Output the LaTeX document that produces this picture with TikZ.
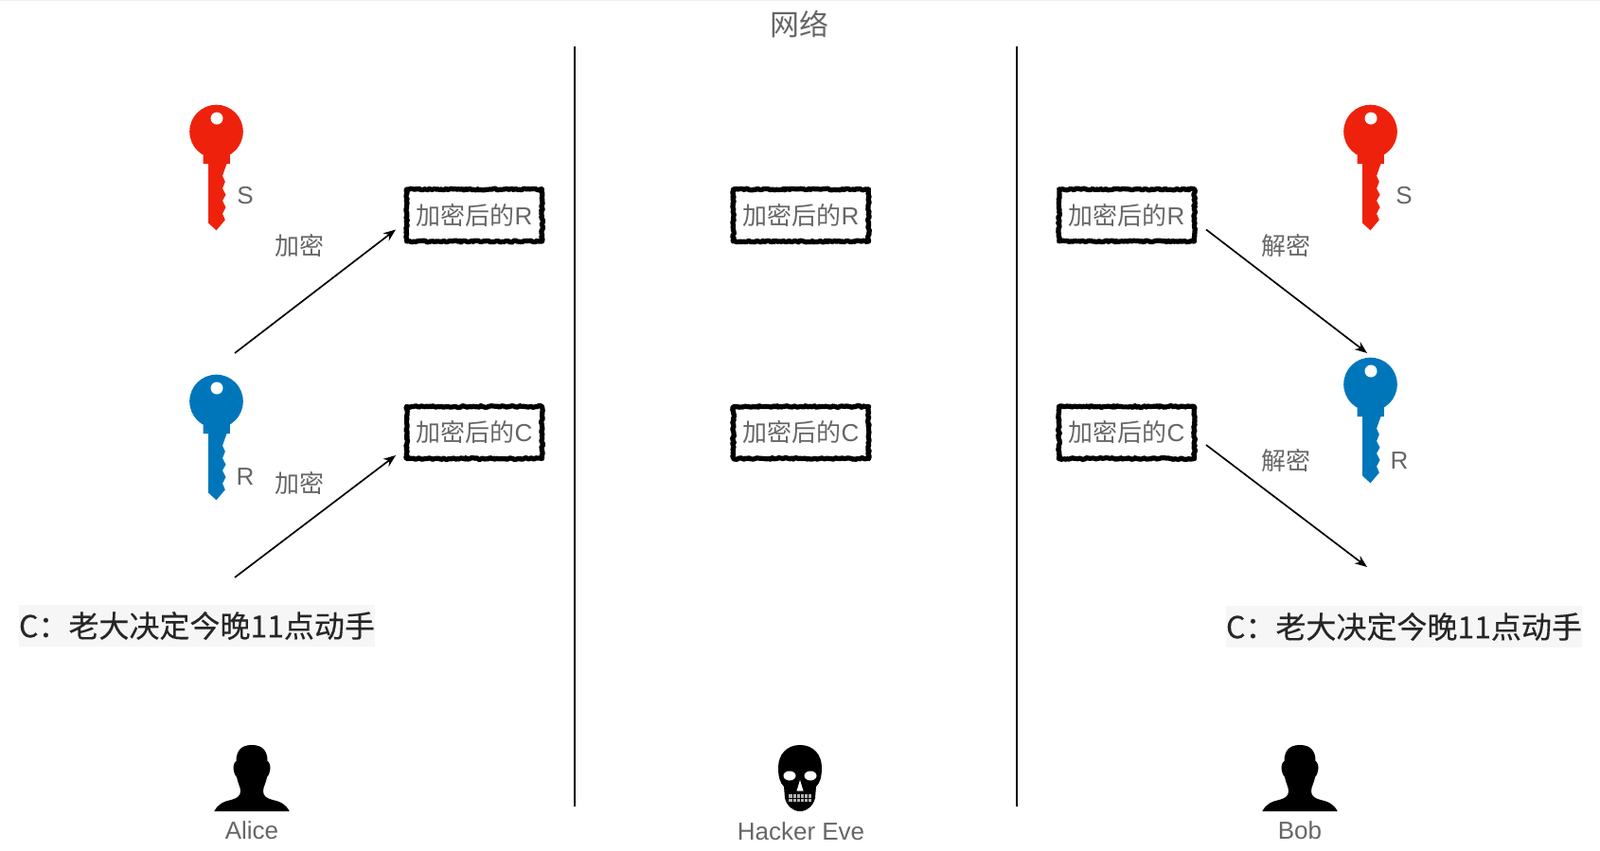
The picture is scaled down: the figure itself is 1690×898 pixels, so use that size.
\documentclass[tikz,border=0pt]{standalone}
\usepackage{fontspec}
\setmainfont{Liberation Sans}
\newfontfamily\cjk{Noto Sans CJK SC}
\newfontfamily\cjkdark[FakeBold=0.3]{Noto Sans CJK SC}
\usetikzlibrary{arrows.meta,positioning,decorations.pathmorphing}
\definecolor{keyred}{HTML}{EE220C}
\definecolor{keyblue}{HTML}{0076BA}
\definecolor{labelgray}{HTML}{666666}
\definecolor{plainbg}{HTML}{F6F6F6}
\tikzset{
  label text/.style={text=labelgray,font=\fontsize{26}{30}\selectfont,inner sep=0pt},
  cipher box/.style={label text,draw=black,line width=5.2pt,line join=round,minimum width=143pt,minimum height=55pt,
    decorate,decoration={random steps,segment length=1.8pt,amplitude=0.9pt}},
  plain box/.style={fill=plainbg,text=black!85,font=\cjkdark\fontsize{32}{36}\selectfont,
    minimum width=376pt,minimum height=44pt,inner sep=0pt},
  flow/.style={-{Stealth[length=13pt,width=10pt]},line width=1.7pt},
  keyshape/.pic={
    \fill[pic actions] (0,0) circle (28.3);
    \fill[pic actions] (-14,20) -- (-14,34) -- (-8.3,34) -- (-8.3,96.7) -- (0,104.3) -- (9.3,93.3)
      -- (6.5,86.7) -- (10,80) -- (6.5,73) -- (10,66.7) -- (6.5,60) -- (9.3,53) -- (6.5,46.7)
      -- (11,34) -- (14.3,34) -- (14.3,20) -- cycle;
    \fill[white] (0.5,-14) circle (6.5);
  },
  personshape/.pic={
    \fill (0,-70) .. controls (12,-70) and (16.5,-63) .. (16.5,-53)
      .. controls (19,-52) and (20,-46) .. (19.3,-44) .. controls (18.5,-40) and (17.5,-37) .. (16,-36)
      .. controls (15,-30) and (12,-26) .. (12,-21) .. controls (12,-16) and (16,-13.5) .. (22,-12)
      .. controls (31,-10) and (36,-7) .. (39.7,0) -- (-39.7,0)
      .. controls (-36,-7) and (-31,-10) .. (-22,-12) .. controls (-16,-13.5) and (-12,-16) .. (-12,-21)
      .. controls (-12,-26) and (-15,-30) .. (-16,-36) .. controls (-17.5,-37) and (-18.5,-40) .. (-19.3,-44)
      .. controls (-20,-46) and (-19,-52) .. (-16.5,-53) .. controls (-16.5,-63) and (-12,-70) .. (0,-70) -- cycle;
  },
  skullshape/.pic={
    \fill (0,-70) .. controls (14,-70) and (23,-60) .. (23,-46) .. controls (23,-36) and (21,-30) .. (17,-26)
      -- (16,-14) .. controls (14,-6) and (8,0) .. (0,0) .. controls (-8,0) and (-14,-6) .. (-16,-14)
      -- (-17,-26) .. controls (-21,-30) and (-23,-36) .. (-23,-46) .. controls (-23,-60) and (-14,-70) .. (0,-70) -- cycle;
    \fill[white] (-11,-37.5) ellipse (6.5 and 5);
    \fill[white] (11,-37.5) ellipse (6.5 and 5);
    \fill[white] (0,-33) -- (-3.5,-21.5) -- (3.5,-21.5) -- cycle;
    \fill[black!30] (-12,-18) rectangle (12,-10);
    \foreach \t in {-8,-4,0,4,8} \draw[black,line width=1pt] (\t,-18) -- (\t,-10);
    \draw[black,line width=0.8pt] (-12,-14) -- (12,-14);
  }
}
\newcommand{\enc}[1]{{\cjk 加密后的}#1}
\begin{document}
\begin{tikzpicture}[x=1pt,y=-1pt]
  \useasboundingbox (0,0) rectangle (1690,898);
  \fill[black!6] (0,0) rectangle (1690,1); % 顶边的浅灰细条
  \node[label text,font=\cjk\fontsize{31}{36}\selectfont] (title) at (844,25) {网络}; % 顶部标题
  \coordinate (lineAtop) at (607,49); \coordinate (lineAbot) at (607,852);
  \coordinate (lineBtop) at (1074,49); \coordinate (lineBbot) at (1074,852);
  \draw[line width=1.8pt] (lineAtop) -- (lineAbot); % 左侧分隔线
  \draw[line width=1.8pt] (lineBtop) -- (lineBbot); % 右侧分隔线

  \pic[fill=keyred] at (228.5,139) {keyshape}; % Alice 的钥匙 S
  \pic[fill=keyblue] at (228.5,424) {keyshape}; % Alice 的钥匙 R
  \pic[fill=keyred] at (1447.5,139) {keyshape}; % Bob 的钥匙 S
  \pic[fill=keyblue] at (1447.5,406) {keyshape}; % Bob 的钥匙 R
  \node[label text] (leftS) at (259,207) {S};
  \node[label text] (leftR) at (259,504) {R};
  \node[label text] (rightS) at (1483,207) {S};
  \node[label text] (rightR) at (1478,487) {R};

  \node[cipher box] (leftboxR) at (501,227.5) {\enc{R}};
  \node[cipher box] (leftboxC) at (501,457) {\enc{C}};
  \node[cipher box] (midboxR) at (846,227.5) {\enc{R}};
  \node[cipher box] (midboxC) at (846,457) {\enc{C}};
  \node[cipher box] (rightboxR) at (1190,227.5) {\enc{R}};
  \node[cipher box] (rightboxC) at (1190,457) {\enc{C}};

  \coordinate (encRfrom) at (248,373); \coordinate (encRto) at (418,242.5);
  \coordinate (encCfrom) at (248,610); \coordinate (encCto) at (418,481);
  \coordinate (decRfrom) at (1274,242.5); \coordinate (decRto) at (1444,373);
  \coordinate (decCfrom) at (1274,470); \coordinate (decCto) at (1444,599);
  \draw[flow] (encRfrom) -- (encRto); % 用 S 加密 R
  \draw[flow] (encCfrom) -- (encCto); % 用 R 加密 C
  \draw[flow] (decRfrom) -- (decRto); % 用 S 解密 R
  \draw[flow] (decCfrom) -- (decCto); % 用 R 解密 C
  \node[label text,font=\cjk\fontsize{26}{30}\selectfont] (encRtext) at (316,259) {加密};
  \node[label text,font=\cjk\fontsize{26}{30}\selectfont] (encCtext) at (316,510) {加密};
  \node[label text,font=\cjk\fontsize{26}{30}\selectfont] (decRtext) at (1358,260) {解密};
  \node[label text,font=\cjk\fontsize{26}{30}\selectfont] (decCtext) at (1358,487) {解密};

  \node[plain box] (leftplain) at (208,661) {C：老大决定今晚11点动手}; % 明文
  \node[plain box] (rightplain) at (1483,662) {C：老大决定今晚11点动手};

  \pic at (266,857) {personshape};
  \pic at (845,857) {skullshape};
  \pic at (1373,857) {personshape};
  \node[label text] (alice) at (266,877) {Alice};
  \node[label text] (eve) at (846,878) {Hacker Eve};
  \node[label text] (bob) at (1373,877) {Bob};
\end{tikzpicture}
\end{document}
